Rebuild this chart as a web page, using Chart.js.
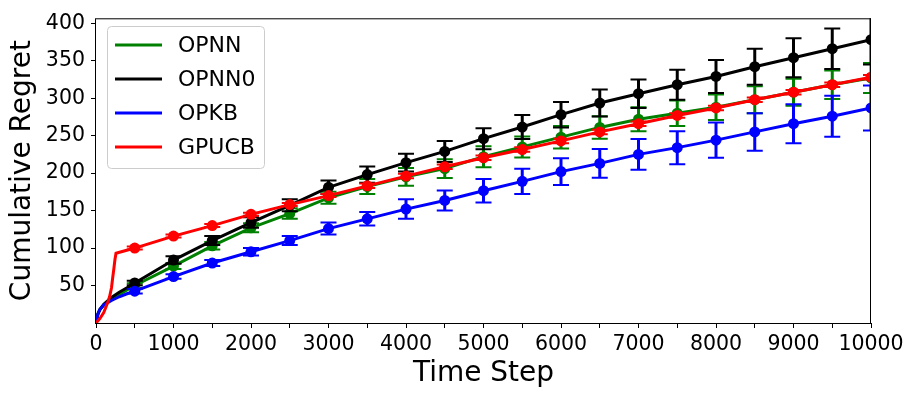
<!DOCTYPE html>
<html><head><meta charset="utf-8">
<script src="https://cdn.jsdelivr.net/npm/chart.js@4.4.0/dist/chart.umd.min.js"></script>
<style>html,body{margin:0;padding:0;background:#fff;}#wrap{width:915px;height:399px;position:relative}</style>
</head><body><div id="wrap"><canvas id="c" width="915" height="399"></canvas></div>
<script>
// marker time steps
const steps = [500,1000,1500,2000,2500,3000,3500,4000,4500,5000,5500,6000,6500,7000,7500,8000,8500,9000,9500,10000];
// series at the marker steps
const opnn   = [50,76,103,127,146,167,182,195,206,222,235,248,261,272,280,288,298,308,318,327];
const opnnErr  = [3,4,5,6,7,8,10,12,12.5,14,14,15,15,16,17,17,18,18,19,20];
const opnn0  = [53.5,84,110,134,157,181,198,214,229,246,261.5,278,293.5,306,318,329,342,354,366,378];
const opnn0Err = [3,5,6,7,8,9,11,12,14,14,16,17,18,19,20,22,24,26,27,33];
const opkb   = [42.5,62,80,95,110,126,139,152,163.5,176.5,189,202,213,225,234,244,255,266,276,287];
const opkbErr  = [3,3,4,5,6,8,9,13,13.4,15.8,17,18,19.3,20.6,22,23.5,25,26,27.4,30];
const gpucb  = [100,116,130,145,158,170,183,196,208.5,220.5,231.5,243,255,266,277,287,298,308,318,328];
const gpucbErr = [2,2,2,2,2,2,3,3,3,3,3,3,3,3,3,3,3,3,3,3];
// early part of each curve (before the first marker)
const earlyStepsNN = [0,25,50,100,200,300,400];
const opnnEarly  = [0,12,18,24,32,38,44];
const opnn0Early = [0,12,18,25,34,41,47];
const opkbEarly  = [0,12,18,24,30,35,39];
const earlyStepsGP = [0,50,100,150,175,200,215,230,245,258];
const gpucbEarly = [0,6,14,27,35,47,60,72,85,93];
// tick values
const yTicks = [50,100,150,200,250,300,350,400];

const FONT = "'DejaVu Sans', sans-serif";

function pts(ex, ey, ys){
  const out = ex.map((x,i)=>({x:x, y:ey[i]}));
  steps.forEach((x,i)=>out.push({x:x, y:ys[i]}));
  return out;
}
function errs(ys, es){ return steps.map((x,i)=>({x:x, lo:ys[i]-es[i], hi:ys[i]+es[i]})); }

function ds(label, color, data, eb, order){
  return {
    label, data, borderColor:color, backgroundColor:color, borderWidth:3,
    tension:0, order, clip:0, errorBars:eb,
    pointRadius: c => (c.raw && c.raw.x>0 && c.raw.x%500===0) ? 5.5 : 0,
    pointHoverRadius: 0, pointBorderWidth:0, pointStyle:'circle'
  };
}

const errorBarPlugin = {
  id:'errbars',
  beforeDatasetDraw(chart, args){
    const d = chart.data.datasets[args.index];
    if(!d.errorBars) return;
    const {ctx, chartArea:a} = chart;
    const xs = chart.scales.x, ys = chart.scales.y;
    ctx.save();
    ctx.beginPath(); ctx.rect(a.left, a.top, a.right-a.left, a.bottom-a.top); ctx.clip();
    ctx.strokeStyle = d.borderColor;
    d.errorBars.forEach(e=>{
      const px = xs.getPixelForValue(e.x);
      const p1 = ys.getPixelForValue(e.lo), p2 = ys.getPixelForValue(e.hi);
      ctx.lineWidth = 3;
      ctx.beginPath(); ctx.moveTo(px,p1); ctx.lineTo(px,p2); ctx.stroke();
      ctx.lineWidth = 2;
      ctx.beginPath();
      ctx.moveTo(px-8,p1); ctx.lineTo(px+8,p1);
      ctx.moveTo(px-8,p2); ctx.lineTo(px+8,p2);
      ctx.stroke();
    });
    ctx.restore();
  }
};

const framePlugin = {
  id:'frame',
  afterDatasetsDraw(chart){
    const {ctx, chartArea:a} = chart;
    ctx.save();
    // legend
    const lx=107.5, ly=26.5, lw=157, lh=142, r=4;
    ctx.beginPath();
    ctx.moveTo(lx+r,ly); ctx.lineTo(lx+lw-r,ly); ctx.arcTo(lx+lw,ly,lx+lw,ly+r,r);
    ctx.lineTo(lx+lw,ly+lh-r); ctx.arcTo(lx+lw,ly+lh,lx+lw-r,ly+lh,r);
    ctx.lineTo(lx+r,ly+lh); ctx.arcTo(lx,ly+lh,lx,ly+lh-r,r);
    ctx.lineTo(lx,ly+r); ctx.arcTo(lx,ly,lx+r,ly,r); ctx.closePath();
    ctx.fillStyle='rgba(255,255,255,0.8)'; ctx.fill();
    ctx.strokeStyle='#cccccc'; ctx.lineWidth=1; ctx.stroke();
    ctx.font = "22px " + FONT; ctx.textBaseline='middle'; ctx.textAlign='left';
    chart.data.datasets.forEach((d,i)=>{
      const y = 45 + i*34;
      ctx.strokeStyle=d.borderColor; ctx.lineWidth=3;
      ctx.beginPath(); ctx.moveTo(115,y); ctx.lineTo(162,y); ctx.stroke();
      ctx.fillStyle='#000'; ctx.fillText(d.label, 178, y+1);
    });
    // axes frame
    ctx.strokeStyle='#000'; ctx.lineWidth=1;
    ctx.strokeRect(a.left-0.5, a.top+0.5, a.right-a.left, a.bottom-a.top);
    ctx.restore();
  }
};

new Chart(document.getElementById('c'), {
  type:'line',
  data:{ datasets:[
    ds('OPNN','#008000', pts(earlyStepsNN, opnnEarly, opnn), errs(opnn,opnnErr), 4),
    ds('OPNN0','#000000', pts(earlyStepsNN, opnn0Early, opnn0), errs(opnn0,opnn0Err), 3),
    ds('OPKB','#0000ff', pts(earlyStepsNN, opkbEarly, opkb), errs(opkb,opkbErr), 2),
    ds('GPUCB','#ff0000', pts(earlyStepsGP, gpucbEarly, gpucb), errs(gpucb,gpucbErr), 1)
  ]},
  options:{
    responsive:false, animation:false, devicePixelRatio:1,
    events:[],
    layout:{padding:{top:15,right:44,left:0,bottom:0}},
    plugins:{legend:{display:false}, tooltip:{enabled:false}},
    scales:{
      x:{
        type:'linear', min:0, max:10000,
        afterFit(s){ s.height = 76; },
        ticks:{ stepSize:500, autoSkip:false, maxRotation:0, minRotation:0, padding:4,
          color:'#000', font:{family:FONT, size:20.5},
          callback:v => (v%1000===0 ? String(v) : '') },
        grid:{ display:true, drawOnChartArea:false, drawTicks:true, tickLength:5, tickColor:'#000', tickWidth:1 },
        border:{display:false},
        title:{ display:true, text:'Time Step', color:'#000', font:{family:FONT, size:28}, padding:{top:0,bottom:8} }
      },
      y:{
        type:'linear', min:0, max:406.6,
        afterFit(s){ s.width = 96; },
        afterBuildTicks(s){ s.ticks = yTicks.map(v=>({value:v})); },
        ticks:{ stepSize:50, padding:6, color:'#000', font:{family:FONT, size:20.5} },
        grid:{ display:true, drawOnChartArea:false, drawTicks:true, tickLength:5, tickColor:'#000', tickWidth:1 },
        border:{display:false},
        title:{ display:true, text:'Cumulative Regret', color:'#000', font:{family:FONT, size:28}, padding:{top:6,bottom:0} }
      }
    }
  },
  plugins:[errorBarPlugin, framePlugin]
});
</script></body></html>
